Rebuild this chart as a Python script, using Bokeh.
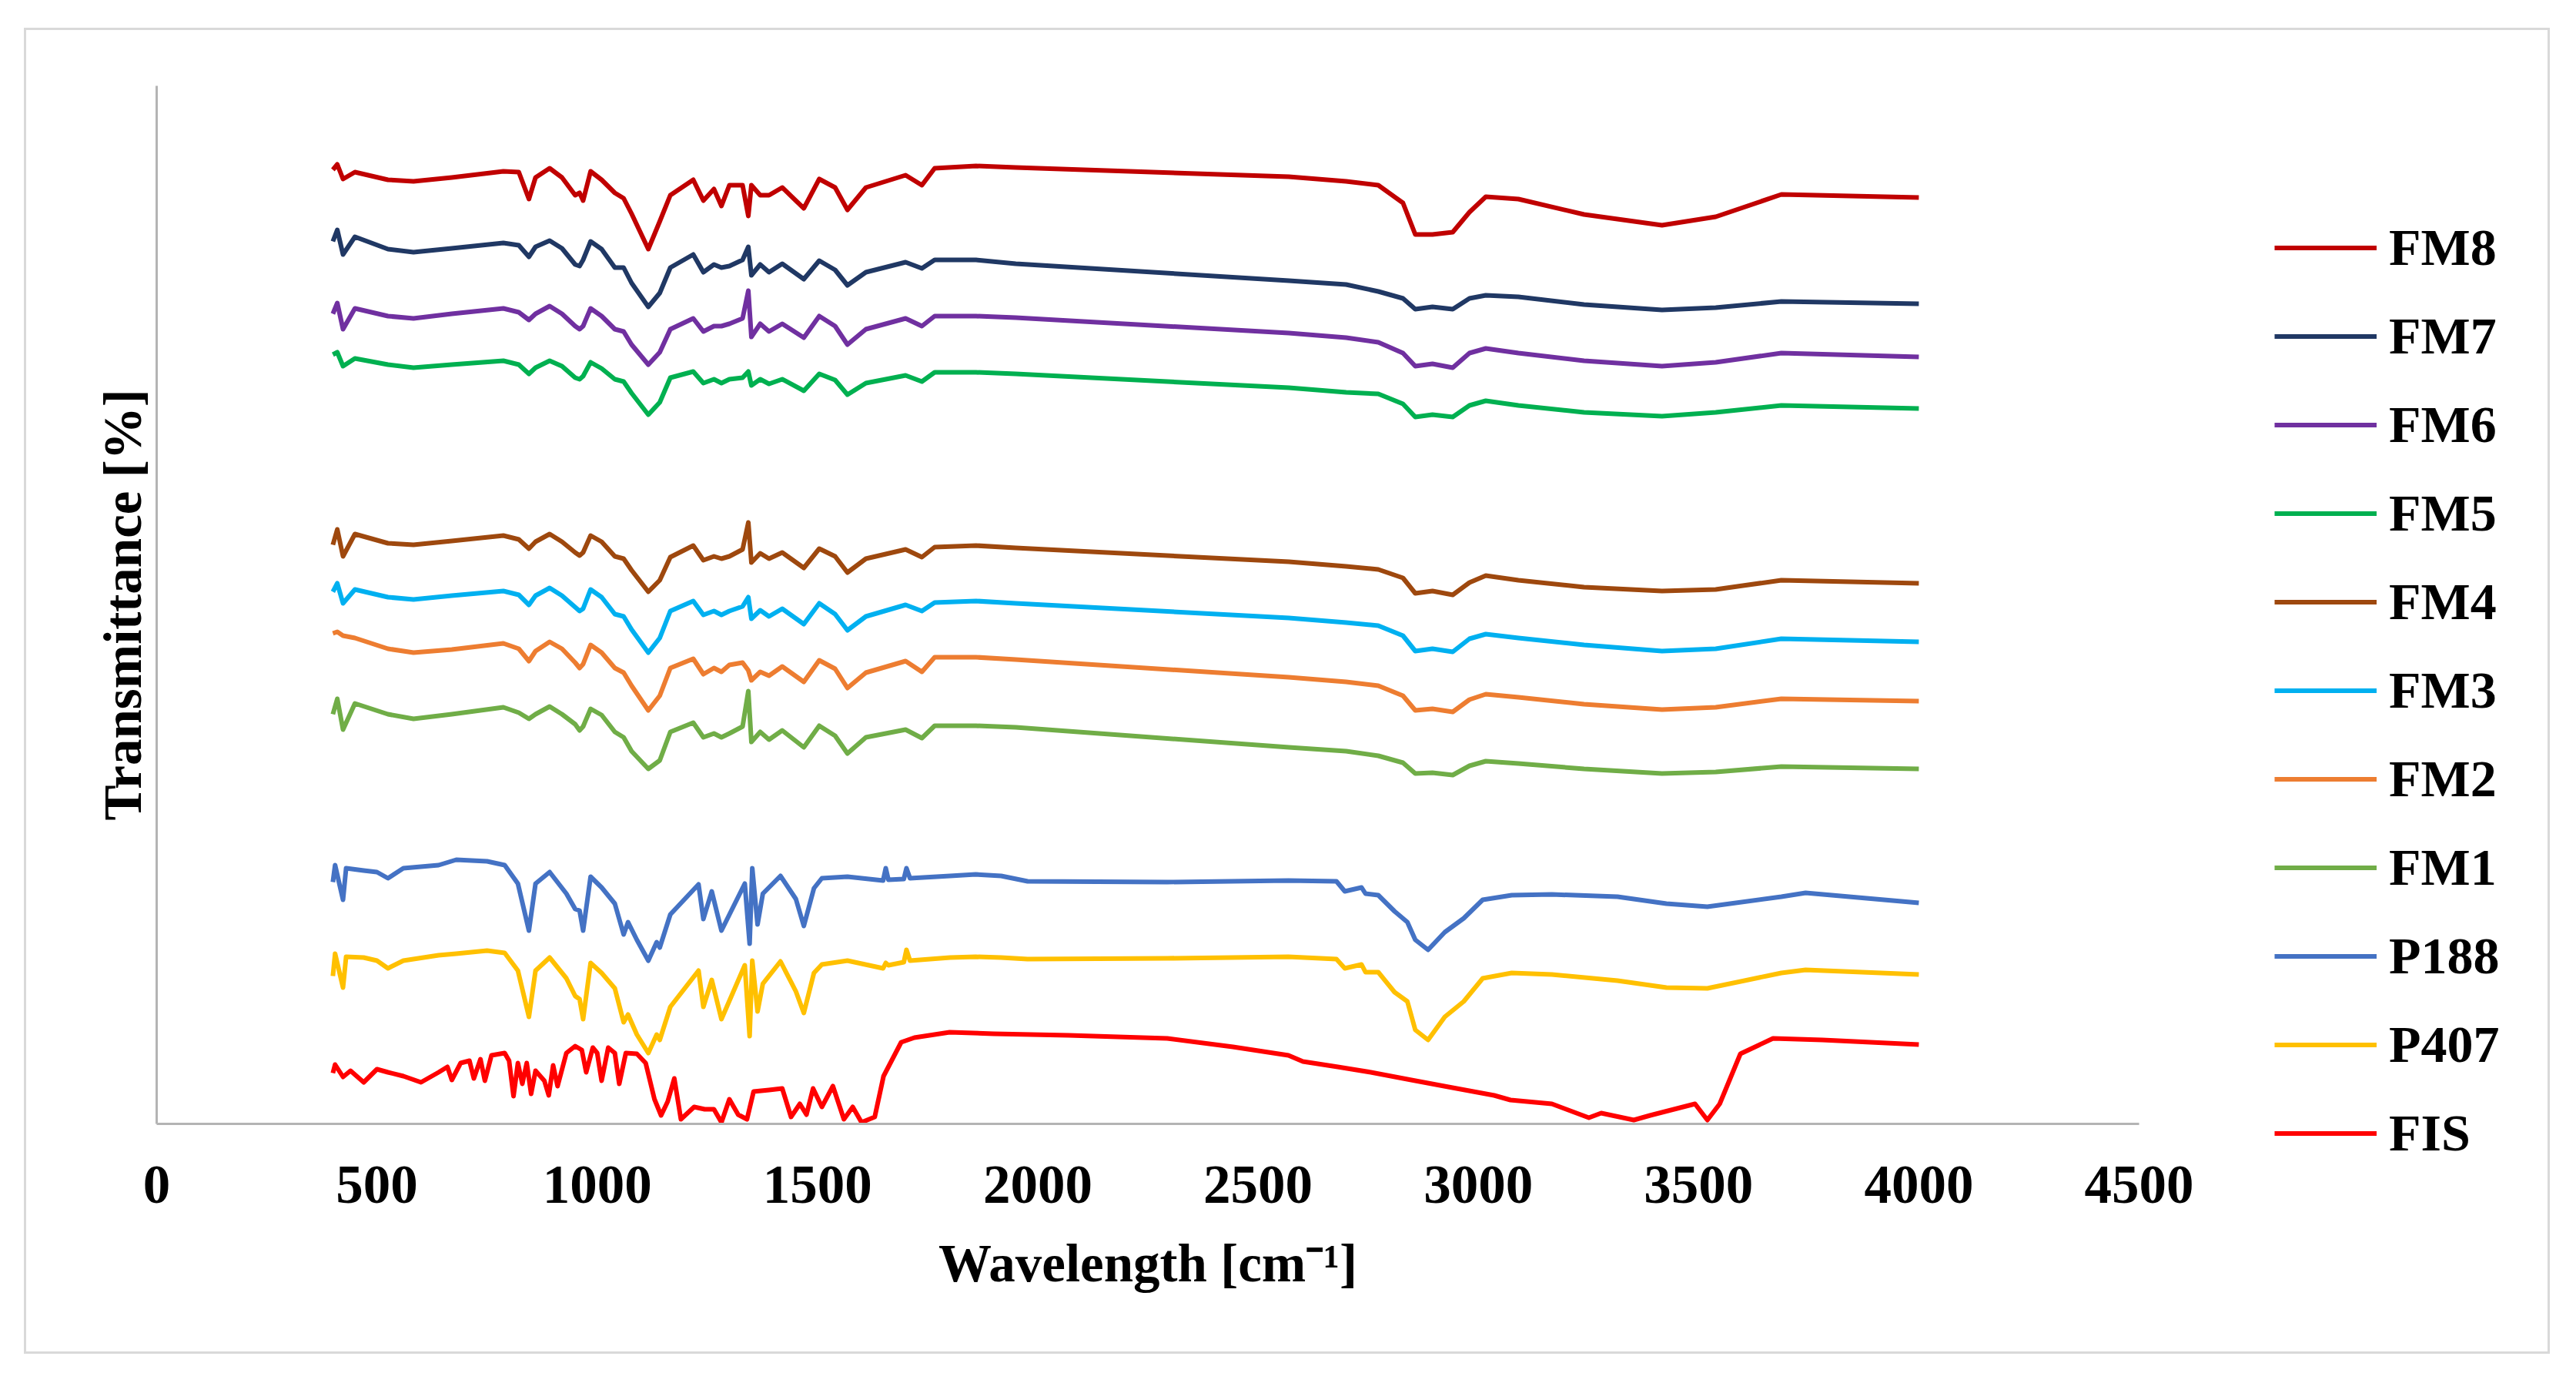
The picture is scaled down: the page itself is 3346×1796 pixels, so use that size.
from bokeh.plotting import figure
from bokeh.models import Range1d, FixedTicker, Legend, LegendItem, InlineStyleSheet
from bokeh.embed import file_html
from bokeh.resources import INLINE

# wavenumber grid shared by the FM formulations (cm-1)
wn_fm = [400, 410, 423, 450, 525, 583, 670, 787, 822, 845,
         860, 892, 920, 950, 960, 968, 985, 1010, 1040, 1060,
         1078, 1116, 1142, 1166, 1218, 1241, 1265, 1282, 1300, 1330,
         1343, 1350, 1370, 1390, 1420, 1469, 1504, 1540, 1568, 1610,
         1700, 1737, 1766, 1860, 1950, 2570, 2700, 2773, 2829, 2857,
         2896, 2942, 2980, 3017, 3091, 3240, 3417, 3539, 3688, 4000]

# transmittance traces (stacked, arbitrary offsets as in the figure)
fm8 = [123.9, 124.6, 122.7, 123.6, 122.6, 122.4, 122.9, 123.7, 123.6, 120.1,
       122.9, 124.1, 122.9, 120.6, 120.9, 119.9, 123.7, 122.6, 120.9, 120.2,
       118.2, 113.6, 117.2, 120.6, 122.6, 119.9, 121.4, 119.2, 121.9, 121.9,
       117.9, 121.9, 120.6, 120.6, 121.6, 118.9, 122.7, 121.6, 118.7, 121.6,
       123.2, 121.9, 124.1, 124.4, 124.2, 123.0, 122.4, 121.9, 119.6, 115.5,
       115.5, 115.8, 118.4, 120.4, 120.1, 118.1, 116.7, 117.8, 120.7, 120.3]
fm7 = [114.6, 116.1, 112.9, 115.2, 113.6, 113.2, 113.7, 114.4, 114.1, 112.6,
       113.9, 114.7, 113.7, 111.6, 111.4, 112.2, 114.6, 113.6, 111.2, 111.2,
       109.2, 106.1, 107.9, 111.2, 112.9, 110.6, 111.6, 111.2, 111.4, 112.2,
       113.9, 110.2, 111.6, 110.6, 111.7, 109.7, 112.1, 110.9, 108.9, 110.6,
       111.9, 111.1, 112.2, 112.2, 111.7, 109.5, 109.0, 108.1, 107.2, 105.8,
       106.1, 105.8, 107.2, 107.6, 107.4, 106.4, 105.7, 106.0, 106.8, 106.5]
fm6 = [105.2, 106.6, 103.2, 105.9, 104.9, 104.6, 105.2, 105.9, 105.4, 104.4,
       105.2, 106.2, 105.2, 103.6, 103.2, 103.6, 105.9, 104.9, 103.2, 102.9,
       101.2, 98.6, 100.2, 103.2, 104.6, 102.9, 103.6, 103.6, 103.9, 104.6,
       108.2, 102.2, 103.9, 102.9, 103.9, 102.1, 104.9, 103.6, 101.2, 103.2,
       104.6, 103.6, 104.9, 104.9, 104.7, 102.7, 102.1, 101.5, 100.1, 98.4,
       98.7, 98.2, 100.1, 100.7, 100.1, 99.1, 98.4, 98.9, 100.1, 99.6]
fm5 = [99.9, 100.2, 98.4, 99.4, 98.6, 98.2, 98.6, 99.1, 98.6, 97.4,
       98.2, 99.1, 98.4, 96.9, 96.7, 97.1, 98.9, 98.1, 96.7, 96.4,
       94.9, 92.1, 93.7, 96.9, 97.7, 96.2, 96.7, 96.2, 96.7, 96.9,
       97.7, 95.9, 96.7, 96.1, 96.7, 95.2, 97.4, 96.6, 94.7, 96.2,
       97.2, 96.4, 97.6, 97.6, 97.4, 95.6, 95.0, 94.8, 93.5, 91.8,
       92.1, 91.8, 93.3, 93.9, 93.3, 92.4, 91.9, 92.4, 93.3, 92.9]
fm4 = [75.2, 77.2, 73.7, 76.6, 75.4, 75.2, 75.7, 76.4, 75.9, 74.7,
       75.6, 76.6, 75.6, 74.2, 73.8, 74.2, 76.4, 75.6, 73.7, 73.4,
       71.9, 69.1, 70.6, 73.6, 75.1, 73.2, 73.7, 73.4, 73.7, 74.6,
       78.1, 72.9, 74.1, 73.4, 74.2, 72.2, 74.7, 73.7, 71.6, 73.4,
       74.6, 73.6, 74.9, 75.1, 74.8, 73.0, 72.4, 72.0, 70.9, 68.9,
       69.2, 68.7, 70.3, 71.2, 70.6, 69.7, 69.2, 69.4, 70.6, 70.2]
fm3 = [69.1, 70.2, 67.6, 69.4, 68.4, 68.1, 68.6, 69.2, 68.7, 67.4,
       68.6, 69.6, 68.6, 67.1, 66.6, 66.9, 69.4, 68.4, 66.2, 65.9,
       64.2, 61.2, 63.1, 66.6, 67.9, 66.1, 66.6, 66.1, 66.6, 67.2,
       68.4, 65.6, 66.7, 65.9, 66.9, 64.9, 67.6, 66.2, 64.1, 65.9,
       67.4, 66.6, 67.7, 67.9, 67.6, 65.7, 65.1, 64.7, 63.4, 61.4,
       61.7, 61.3, 63.0, 63.6, 63.1, 62.2, 61.4, 61.7, 63.0, 62.6]
fm2 = [63.7, 63.9, 63.4, 63.1, 61.7, 61.2, 61.6, 62.4, 61.7, 60.1,
       61.4, 62.6, 61.7, 59.9, 59.2, 59.7, 62.2, 61.2, 59.2, 58.6,
       56.9, 53.7, 55.6, 59.2, 60.4, 58.4, 59.2, 58.7, 59.6, 59.9,
       58.9, 57.6, 58.7, 58.2, 59.4, 57.4, 60.2, 59.1, 56.6, 58.6,
       60.1, 58.7, 60.6, 60.6, 60.3, 58.0, 57.4, 56.9, 55.6, 53.7,
       53.9, 53.5, 55.1, 55.8, 55.4, 54.5, 53.8, 54.1, 55.2, 54.9]
fm1 = [53.2, 55.2, 51.2, 54.6, 53.2, 52.6, 53.2, 54.1, 53.4, 52.6,
       53.2, 54.2, 53.2, 51.9, 51.1, 51.6, 53.9, 53.1, 50.9, 50.2,
       48.4, 46.1, 47.2, 50.9, 52.1, 50.2, 50.7, 50.2, 50.7, 51.6,
       56.2, 49.6, 50.9, 49.9, 51.1, 48.9, 51.7, 50.4, 48.1, 50.2,
       51.2, 50.1, 51.7, 51.7, 51.5, 48.9, 48.4, 47.8, 46.9, 45.5,
       45.6, 45.3, 46.5, 47.1, 46.8, 46.1, 45.5, 45.7, 46.4, 46.1]

# poloxamers
wn_pol = [400, 405, 423, 430, 470, 500, 525, 560, 640, 680,
          750, 790, 820, 845, 860, 892, 930, 950, 960, 968,
          985, 1010, 1040, 1060, 1070, 1090, 1116, 1135, 1142, 1166,
          1230, 1241, 1260, 1282, 1335, 1346, 1352, 1364, 1376, 1416,
          1451, 1469, 1492, 1510, 1568, 1649, 1655, 1661, 1696, 1702,
          1710, 1801, 1859, 1917, 1977, 2294, 2569, 2678, 2697, 2735,
          2744, 2773, 2810, 2839, 2857, 2886, 2924, 2967, 3010, 3076,
          3167, 3316, 3427, 3520, 3688, 3743, 4000]
p188 = [31.4, 33.6, 29.1, 33.2, 32.9, 32.7, 31.9, 33.2, 33.6, 34.3,
        34.1, 33.6, 31.2, 25.1, 31.2, 32.7, 29.9, 27.9, 27.7, 25.1,
        32.1, 30.7, 28.6, 24.6, 26.2, 23.9, 21.2, 23.6, 22.9, 27.2,
        31.1, 26.6, 30.2, 25.1, 31.2, 23.4, 33.2, 25.9, 29.9, 32.2,
        29.2, 25.7, 30.6, 31.9, 32.1, 31.6, 33.2, 31.7, 31.8, 33.2,
        31.9, 32.2, 32.4, 32.2, 31.5, 31.4, 31.6, 31.5, 30.2, 30.7,
        29.9, 29.7, 27.6, 26.2, 23.9, 22.6, 24.9, 26.7, 29.1, 29.7,
        29.8, 29.5, 28.6, 28.2, 29.5, 30.0, 28.7]
p407 = [19.2, 22.1, 17.7, 21.7, 21.6, 21.2, 20.2, 21.2, 21.9, 22.1,
        22.5, 22.2, 19.9, 13.9, 19.9, 21.6, 18.9, 16.6, 16.2, 13.6,
        20.9, 19.6, 17.6, 13.2, 14.2, 11.6, 9.2, 11.6, 10.9, 15.2,
        19.9, 15.2, 18.7, 13.6, 20.6, 11.4, 21.2, 14.6, 18.2, 21.1,
        17.2, 14.4, 19.6, 20.7, 21.2, 20.2, 20.9, 20.6, 21.0, 22.6,
        21.2, 21.6, 21.7, 21.6, 21.4, 21.5, 21.7, 21.4, 20.2, 20.7,
        19.7, 19.7, 17.1, 15.9, 12.2, 10.9, 13.9, 15.9, 18.9, 19.6,
        19.4, 18.6, 17.7, 17.6, 19.6, 20.0, 19.4]

# fisetin
wn_fis = [400, 405, 423, 440, 470, 500, 525, 560, 600, 640,
          660, 670, 690, 710, 720, 735, 745, 760, 790, 800,
          810, 820, 830, 840, 850, 860, 880, 890, 900, 910,
          930, 950, 965, 975, 990, 1000, 1010, 1025, 1040, 1050,
          1065, 1090, 1110, 1130, 1145, 1160, 1175, 1190, 1220, 1244,
          1265, 1282, 1300, 1320, 1340, 1355, 1390, 1420, 1440, 1460,
          1475, 1490, 1510, 1535, 1560, 1580, 1600, 1630, 1650, 1690,
          1720, 1800, 1900, 2070, 2294, 2443, 2569, 2602, 2681, 2756,
          2848, 2932, 3036, 3073, 3167, 3251, 3279, 3353, 3390, 3492,
          3520, 3548, 3595, 3669, 3781, 4000]
fis = [6.6, 7.7, 6.1, 6.9, 5.4, 7.1, 6.7, 6.2, 5.4, 6.7,
       7.4, 5.7, 7.9, 8.2, 5.9, 8.4, 5.6, 8.9, 9.2, 8.2,
       3.6, 7.9, 5.2, 7.9, 3.9, 6.9, 5.6, 3.7, 7.6, 4.9,
       9.2, 10.1, 9.6, 6.7, 9.9, 9.2, 5.6, 9.9, 9.2, 5.2,
       9.2, 9.1, 7.9, 3.2, 1.1, 2.9, 5.9, 0.6, 2.2, 1.9,
       1.9, 0.2, 3.2, 1.2, 0.6, 4.2, 4.4, 4.6, 0.9, 2.6,
       1.2, 4.6, 2.2, 4.9, 0.6, 2.2, 0.2, 0.9, 6.2, 10.6,
       11.2, 11.9, 11.7, 11.5, 11.1, 10.0, 8.9, 8.1, 7.4, 6.7,
       5.7, 4.8, 3.7, 3.1, 2.6, 0.8, 1.4, 0.5, 1.1, 2.6,
       0.5, 2.6, 9.1, 11.1, 10.9, 10.3]

x_ticks = [0, 500, 1000, 1500, 2000, 2500, 3000, 3500, 4000, 4500]

series = [
    ("FM8", wn_fm, fm8, "#c00000"),
    ("FM7", wn_fm, fm7, "#203864"),
    ("FM6", wn_fm, fm6, "#7030a0"),
    ("FM5", wn_fm, fm5, "#00b050"),
    ("FM4", wn_fm, fm4, "#9e480e"),
    ("FM3", wn_fm, fm3, "#00b0f0"),
    ("FM2", wn_fm, fm2, "#ed7d31"),
    ("FM1", wn_fm, fm1, "#70ad47"),
    ("P188", wn_pol, p188, "#4472c4"),
    ("P407", wn_pol, p407, "#ffc000"),
    ("FIS", wn_fis, fis, "#ff0000"),
]

FONT = "Liberation Serif"

# thin light frame round the whole figure, painted behind a transparent canvas
edge = "linear-gradient(#d9d9d9, #d9d9d9)"
frame_css = InlineStyleSheet(css=(
    ":host { background: "
    f"{edge} 31px 36px / 3281px 3px no-repeat, "
    f"{edge} 31px 1755px / 3281px 3px no-repeat, "
    f"{edge} 31px 36px / 3px 1722px no-repeat, "
    f"{edge} 3309px 36px / 3px 1722px no-repeat, "
    "white !important; }"
))

p = figure(frame_width=2575, frame_height=1348,
           output_backend="svg", toolbar_location=None,
           x_range=Range1d(0, 4500), y_range=Range1d(0, 134.8),
           min_border_left=203, min_border_right=560,
           min_border_top=111, min_border_bottom=311,
           stylesheets=[frame_css])
p.background_fill_color = "white"
p.border_fill_alpha = 0
p.outline_line_color = None
p.grid.visible = False

items = []
for name, xs, ys, color in series:
    r = p.line(xs, ys, color=color, line_width=6, line_join="round")
    items.append(LegendItem(label=name, renderers=[r]))

xa = p.xaxis[0]
xa.ticker = FixedTicker(ticks=x_ticks)
xa.axis_line_color = "#b4b4b4"
xa.axis_line_width = 3
xa.major_tick_line_color = None
xa.minor_tick_line_color = None
xa.major_tick_out = 0
xa.major_tick_in = 0
xa.major_label_standoff = 55
xa.major_label_text_font = FONT
xa.major_label_text_font_style = "bold"
xa.major_label_text_font_size = "71px"
xa.major_label_text_color = "black"
xa.axis_label = "Wavelength [cm\u207b\u00b9]"
xa.axis_label_standoff = 38
xa.axis_label_text_font = FONT
xa.axis_label_text_font_style = "bold"
xa.axis_label_text_font_size = "69px"
xa.axis_label_text_color = "black"

ya = p.yaxis[0]
ya.ticker = FixedTicker(ticks=[])
ya.axis_line_color = "#b4b4b4"
ya.axis_line_width = 3
ya.major_tick_line_color = None
ya.minor_tick_line_color = None
ya.axis_label = "Transmittance [%]"
ya.axis_label_standoff = 6
ya.axis_label_text_font = FONT
ya.axis_label_text_font_style = "bold"
ya.axis_label_text_font_size = "69px"
ya.axis_label_text_color = "black"

legend = Legend(items=items, location=(176, -70))
legend.border_line_color = None
legend.background_fill_alpha = 0
legend.padding = 0
legend.margin = 0
legend.spacing = 0
legend.glyph_width = 133
legend.glyph_height = 115
legend.label_height = 115
legend.label_standoff = 16
legend.label_text_font = FONT
legend.label_text_font_style = "bold"
legend.label_text_font_size = "68px"
legend.label_text_color = "black"
p.add_layout(legend, "right")

open("out.html", "w").write(file_html(p, INLINE))
